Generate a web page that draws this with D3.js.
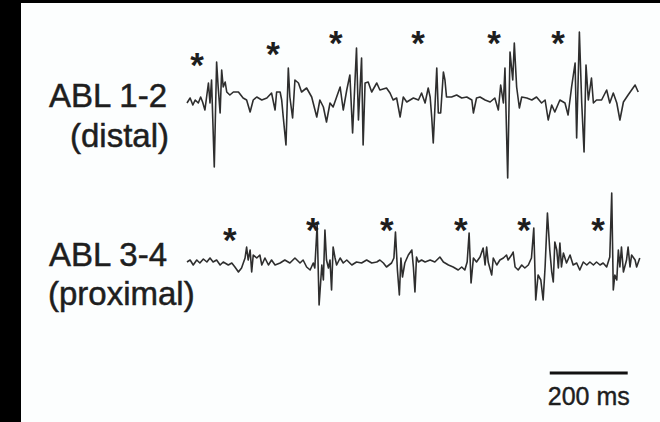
<!DOCTYPE html>
<html>
<head>
<meta charset="utf-8">
<script src="https://cdn.jsdelivr.net/npm/d3@7/dist/d3.min.js"></script>
<style>
  html, body { margin: 0; padding: 0; background: #000; }
  svg { display: block; }
  text { font-family: "Liberation Sans", Arial, sans-serif; fill: #1e1e1e; }
</style>
</head>
<body>
<svg id="chart" width="660" height="422"></svg>
<script>
// ---- Data (time in ms, amplitude in arbitrary units) ----
const channelLabels = [["ABL 1-2", "(distal)"], ["ABL 3-4", "(proximal)"]];

const distalTime = [0,8,15,21,29,35,40,46,55,59,63,70,76,80,85,89,93,98,102,110,119,132,144,153,162,170,179,192,205,217,226,230,239,243,247,254,260,264,271,277,286,294,307,320,333,341,350,358,367,375,384,393,401,410,418,425,435,440,448,452,457,465,474,487,495,512,521,529,538,547,555,564,581,594,602,611,619,624,628,632,641,645,651,658,662,666,679,692,705,718,731,735,743,752,765,778,790,799,805,812,816,823,829,836,840,846,853,859,872,885,897,910,919,927,936,944,957,970,978,987,996,1000,1007,1013,1019,1024,1030,1038,1043,1051,1064,1077,1085,1094,1103,1111,1120,1132,1141,1150,1158];
const distalAmp = [-3,2,-5,0,-3,3,-2,-10,17,-3,20,-67,38,13,-13,30,13,18,8,5,8,8,2,0,-12,0,3,0,2,7,-10,8,8,0,-17,-45,32,3,-18,20,17,8,12,3,-17,0,-7,-22,-3,-7,3,13,-10,10,25,-33,52,-20,42,-45,17,18,8,17,10,12,7,0,2,-17,3,-2,2,0,7,-3,12,3,-17,-43,32,-13,-13,28,20,3,3,5,2,3,0,-13,2,3,0,-2,2,-10,15,-3,32,-78,48,20,57,13,-8,3,2,0,3,-3,0,-20,-5,-12,0,-3,-15,13,37,-38,68,-3,-52,35,0,22,-3,0,0,10,-3,7,-3,-20,-2,5,10,15,8];

const proximalTime = [0,8,16,25,33,42,51,59,67,76,85,93,106,115,123,132,140,149,153,157,162,166,170,179,187,192,200,209,217,226,239,251,264,277,290,298,307,316,324,328,334,339,346,350,354,358,363,367,371,375,380,384,393,401,410,423,435,448,461,474,487,495,504,512,525,531,535,540,545,549,553,559,568,577,581,585,589,594,602,611,624,636,649,658,671,683,696,705,713,719,724,729,735,743,752,760,765,769,773,782,786,795,803,812,820,824,833,837,842,850,859,867,876,884,890,895,901,908,914,919,925,931,936,940,944,949,953,957,961,966,974,983,991,1000,1008,1017,1026,1034,1043,1051,1060,1068,1077,1085,1090,1094,1098,1103,1107,1111,1115,1120,1128,1132,1137,1141,1150,1154,1162];
const proximalAmp = [0,2,-3,2,-1,3,0,4,0,2,-3,0,-3,-1,-5,-10,-6,4,15,2,12,-10,7,4,7,-3,4,-3,2,-3,-1,2,-1,4,-1,2,-5,-8,-1,-6,37,-43,-3,-18,32,2,-6,2,-28,15,4,-3,4,-1,2,-3,0,-1,2,-1,0,2,-1,-5,-1,4,30,-8,-33,4,-15,-1,7,12,-5,-30,5,0,2,0,2,0,5,0,-3,-5,-8,-5,-8,0,29,-21,4,0,5,14,-3,15,0,-13,4,-3,2,4,7,2,7,10,-5,-8,-3,-6,-3,4,34,-38,-13,-18,-38,-5,49,12,-10,-20,20,12,-6,19,-5,9,-1,7,-3,-1,-8,0,-3,0,-3,0,-3,-1,-5,5,69,-28,-13,-18,12,-5,15,-10,2,15,-5,7,2,-5,4];

const distalStarTime = [26,221,382,593,788,952];
const distalStarAmp = [40,51,62,62,62,62];
const proximalStarTime = [110,323,513,703,865,1055];
const proximalStarAmp = [27,37,37,37,37,37];

const scaleBarMs = 200;
const scaleBarStart = 931;
const scaleBarLabel = "200 ms";

// ---- Drawing ----
const svg = d3.select("#chart");
svg.append("rect").attr("x", 21).attr("y", 3).attr("width", 639).attr("height", 419).attr("fill", "#fcfefe");

const x = d3.scaleLinear().domain([0, 1160]).range([187, 639]);
const y = d3.scaleLinear().domain([-100, 100]).range([100, -100]);

const traces = [
  { time: distalTime, amp: distalAmp, st: distalStarTime, sa: distalStarAmp, base: 100 },
  { time: proximalTime, amp: proximalAmp, st: proximalStarTime, sa: proximalStarAmp, base: 262 }
];

const line = d3.line().x(d => x(d[0])).y(d => y(d[1])).curve(d3.curveLinear);

traces.forEach(tr => {
  const g = svg.append("g").attr("transform", `translate(0,${tr.base})`);
  const pts = tr.time.map((t, i) => [t, tr.amp[i]]);
  g.append("path").datum(pts).attr("d", line)
    .attr("fill", "none").attr("stroke", "#2e2e2e").attr("stroke-width", 1.6)
    .attr("stroke-linejoin", "round");
  g.selectAll("text.star").data(tr.st.map((t, i) => [t, tr.sa[i]])).join("text")
    .attr("class", "star")
    .attr("x", d => x(d[0])).attr("y", d => y(d[1]) + 17)
    .attr("text-anchor", "middle")
    .style("font-size", "35px").style("font-weight", "bold")
    .text("*");
});

// Channel labels
const labelPos = [
  [{ x: 49, y: 107 }, { x: 70, y: 147 }],
  [{ x: 49, y: 266 }, { x: 48, y: 305 }]
];
channelLabels.forEach((pair, i) => {
  pair.forEach((txt, j) => {
    svg.append("text").attr("x", labelPos[i][j].x).attr("y", labelPos[i][j].y)
      .style("font-size", "33px")
      .attr("stroke", "#1e1e1e").attr("stroke-width", 0.5)
      .text(txt);
  });
});

// Scale bar
svg.append("line")
  .attr("x1", x(scaleBarStart)).attr("x2", x(scaleBarStart + scaleBarMs))
  .attr("y1", 373).attr("y2", 373)
  .attr("stroke", "#111").attr("stroke-width", 3.2);
svg.append("text").attr("x", (x(scaleBarStart) + x(scaleBarStart + scaleBarMs)) / 2).attr("y", 405)
  .attr("text-anchor", "middle").style("font-size", "25px")
  .attr("stroke", "#1e1e1e").attr("stroke-width", 0.4)
  .text(scaleBarLabel);
</script>
</body>
</html>
